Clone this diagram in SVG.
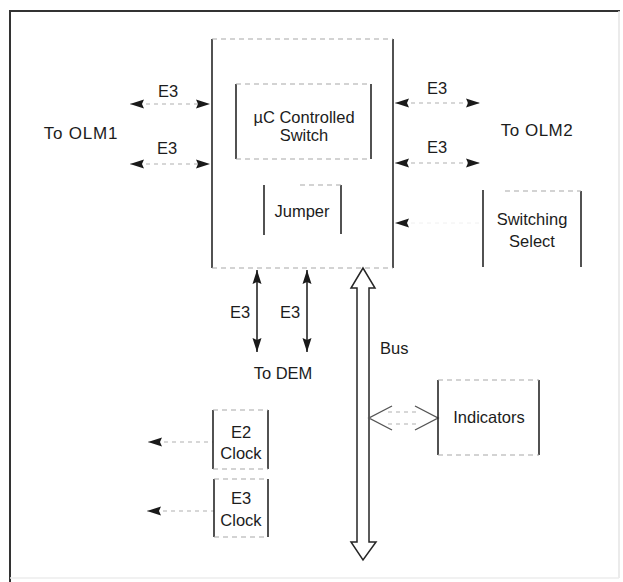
<svg xmlns="http://www.w3.org/2000/svg" width="623" height="582" viewBox="0 0 623 582">
<defs>
<style>
text{font-family:"Liberation Sans",Arial,sans-serif;font-size:16.5px;fill:#1c1c1c}
.m{text-anchor:middle}
.v{stroke:#262626;stroke-width:1.6;fill:none}
.h{stroke:#a8a8a8;stroke-width:1.2;stroke-dasharray:5 4;fill:none}
.c{stroke:#b0b0b0;stroke-width:1.2;stroke-dasharray:4 4;fill:none}
.s{stroke:#262626;stroke-width:1.6;fill:none}
</style>
<marker id="ah" markerUnits="userSpaceOnUse" markerWidth="15" markerHeight="10" refX="14" refY="5" orient="auto-start-reverse">
<path d="M0,0.5 L14,5 L0,9.5 L2,5 Z" fill="#1a1a1a"/>
</marker>
</defs>
<rect width="623" height="582" fill="#fff"/>
<g id="frame">
<line x1="9" y1="11" x2="620" y2="11" stroke="#333" stroke-width="2"/>
<line x1="10" y1="11" x2="10" y2="582" stroke="#333" stroke-width="2"/>
<line x1="619" y1="11" x2="619" y2="578" stroke="#e4e4e4" stroke-width="1.5"/>
<line x1="10" y1="578" x2="619" y2="578" stroke="#ececec" stroke-width="1.5"/>
</g>
<g id="connectors">
<line class="c" x1="130" y1="104" x2="210" y2="104" marker-start="url(#ah)" marker-end="url(#ah)"/>
<line class="c" x1="130" y1="164" x2="210" y2="164" marker-start="url(#ah)" marker-end="url(#ah)"/>
<line class="c" x1="395" y1="103" x2="480" y2="103" marker-start="url(#ah)" marker-end="url(#ah)"/>
<line class="c" x1="395" y1="163" x2="480" y2="163" marker-start="url(#ah)" marker-end="url(#ah)"/>
<line x1="395" y1="223" x2="483" y2="223" stroke="#f0f0f0" stroke-width="1" stroke-dasharray="4 4" marker-start="url(#ah)"/>
<line class="s" x1="257" y1="270" x2="257" y2="352" marker-start="url(#ah)" marker-end="url(#ah)"/>
<line class="s" x1="307" y1="270" x2="307" y2="352" marker-start="url(#ah)" marker-end="url(#ah)"/>
<path d="M363,268 L351,288 L357,288 L357,542 L351,542 L363,560 L376,542 L369,542 L369,288 L375,288 Z" fill="#fff" stroke="#262626" stroke-width="1.5" stroke-linejoin="miter"/>
<path d="M392,406 L369,418 L392,430 M415,406 L438,418 L415,430" fill="none" stroke="#555" stroke-width="1.4"/>
<path d="M388,412 L419,412 M388,424 L419,424" class="c"/>
<line class="c" x1="148" y1="442" x2="213" y2="442" marker-start="url(#ah)"/>
<line class="c" x1="147" y1="511" x2="214" y2="511" marker-start="url(#ah)"/>
</g>
<g id="main">
<line class="v" x1="212" y1="39" x2="212" y2="268"/>
<line class="v" x1="393" y1="39" x2="393" y2="268"/>
<line class="h" x1="212" y1="39" x2="393" y2="39"/>
<line class="h" x1="212" y1="268" x2="393" y2="268"/>
</g>
<g id="switch">
<line class="v" x1="236" y1="84" x2="236" y2="159" stroke-width="1.3"/>
<line class="v" x1="371" y1="84" x2="371" y2="159" stroke-width="1.3"/>
<line class="h" x1="236" y1="84" x2="371" y2="84"/>
<line class="h" x1="236" y1="159" x2="371" y2="159"/>
<text class="m" x="304" y="123">µC Controlled</text>
<text class="m" x="304" y="141">Switch</text>
</g>
<g id="jumper">
<line class="v" x1="264" y1="185" x2="264" y2="235" stroke-width="1.3"/>
<line class="v" x1="341" y1="185" x2="341" y2="234" stroke-width="1.3"/>
<line class="h" x1="300" y1="185" x2="341" y2="185" stroke="#ccc"/>
<text class="m" x="302" y="217">Jumper</text>
</g>
<g id="select">
<line class="v" x1="483" y1="190" x2="483" y2="267" stroke-width="1.3"/>
<line class="v" x1="581" y1="191" x2="581" y2="267" stroke-width="1.8"/>
<line class="h" x1="505" y1="191" x2="581" y2="191" stroke="#d4d4d4"/>
<text class="m" x="532" y="225">Switching</text>
<text class="m" x="532" y="247">Select</text>
</g>
<g id="indicators">
<line class="v" x1="438" y1="380" x2="438" y2="455"/>
<line class="v" x1="539" y1="380" x2="539" y2="455"/>
<line class="h" x1="438" y1="380" x2="539" y2="380" stroke="#c4c4c4"/>
<line class="h" x1="438" y1="455" x2="539" y2="455" stroke="#c4c4c4"/>
<text class="m" x="489" y="423">Indicators</text>
</g>
<g id="e2clock">
<line class="v" x1="213" y1="410" x2="213" y2="469" stroke-width="1.3"/>
<line class="v" x1="268" y1="410" x2="268" y2="469" stroke-width="1.3"/>
<line class="h" x1="213" y1="410" x2="268" y2="410"/>
<line class="h" x1="213" y1="469" x2="268" y2="469"/>
<text class="m" x="241" y="438">E2</text>
<text class="m" x="241" y="459">Clock</text>
</g>
<g id="e3clock">
<line class="v" x1="214" y1="479" x2="214" y2="537" stroke-width="1.3"/>
<line class="v" x1="268" y1="479" x2="268" y2="537" stroke-width="1.3"/>
<line class="h" x1="214" y1="479" x2="268" y2="479"/>
<line class="h" x1="214" y1="537" x2="268" y2="537"/>
<text class="m" x="241" y="504">E3</text>
<text class="m" x="241" y="526">Clock</text>
</g>
<g id="labels">
<text class="m" x="168" y="97">E3</text>
<text class="m" x="167" y="154">E3</text>
<text class="m" x="81" y="139" style="font-size:17px;letter-spacing:0.8px">To OLM1</text>
<text class="m" x="437" y="94">E3</text>
<text class="m" x="437" y="153">E3</text>
<text class="m" x="537" y="136" style="font-size:17px;letter-spacing:0.5px">To OLM2</text>
<text class="m" x="240" y="318">E3</text>
<text class="m" x="290" y="318">E3</text>
<text class="m" x="283" y="379">To DEM</text>
<text x="380" y="354">Bus</text>
</g>
</svg>
